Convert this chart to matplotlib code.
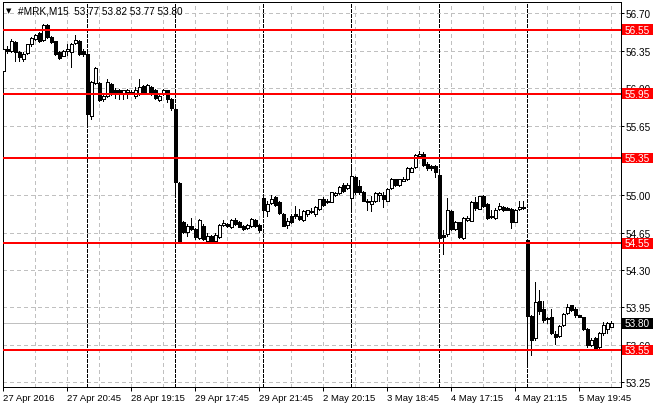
import matplotlib
matplotlib.use('Agg')
import matplotlib.pyplot as plt
from matplotlib.patches import Rectangle
import matplotlib.transforms as mtransforms

plt.rcParams['font.family'] = ['Liberation Sans', 'DejaVu Sans']

symbol = "#MRK,M15"

opens = [
    56.16, 56.37, 56.35, 56.43, 56.34, 56.27, 56.33, 56.41, 56.46, 56.52,
    56.45, 56.59, 56.48, 56.44, 56.34, 56.30, 56.35, 56.34, 56.42, 56.44,
    56.35, 56.32, 55.74, 56.05, 56.05, 55.90, 55.93, 56.04, 55.98, 55.98,
    55.96, 55.97, 55.97, 55.93, 55.95, 56.02, 55.96, 56.01, 55.98, 55.89,
    55.95, 55.98, 55.90, 55.81, 55.11, 54.75, 54.66, 54.71, 54.68, 54.60,
    54.71, 54.57, 54.62, 54.57, 54.61, 54.72, 54.73, 54.70, 54.77, 54.75,
    54.71, 54.69, 54.71, 54.77, 54.72, 54.97, 54.85, 54.93, 54.98, 54.94,
    54.82, 54.72, 54.81, 54.82, 54.81, 54.77, 54.82, 54.84, 54.82, 54.87,
    54.96, 54.94, 54.94, 55.00, 55.02, 55.10, 55.07, 54.97, 55.17, 55.09,
    55.03, 54.95, 54.92, 54.95, 55.00, 55.00, 54.95, 55.07, 55.15, 55.10,
    55.13, 55.15, 55.22, 55.26, 55.37, 55.39, 55.29, 55.27, 55.27, 55.19,
    54.63, 54.64, 54.85, 54.68, 54.75, 54.60, 54.77, 54.76, 54.94, 54.87,
    54.99, 54.92, 54.80, 54.79, 54.87, 54.89, 54.88, 54.87, 54.75, 54.87,
    54.89, 54.58, 53.87, 53.66, 54.01, 53.94, 53.85, 53.86, 53.70, 53.68,
    53.79, 53.90, 53.97, 53.94, 53.88, 53.86, 53.75, 53.60, 53.66, 53.58,
    53.71, 53.75, 53.77]

highs = [
    56.39, 56.40, 56.46, 56.44, 56.35, 56.34, 56.41, 56.48, 56.51, 56.53,
    56.60, 56.60, 56.49, 56.44, 56.35, 56.36, 56.41, 56.42, 56.50, 56.45,
    56.37, 56.33, 56.07, 56.20, 56.06, 55.96, 56.09, 56.05, 56.00, 55.99,
    55.98, 55.99, 55.98, 56.01, 56.09, 56.03, 56.04, 56.02, 55.99, 55.95,
    55.99, 55.98, 55.91, 55.82, 55.12, 54.76, 54.73, 54.79, 54.69, 54.78,
    54.73, 54.65, 54.63, 54.65, 54.73, 54.77, 54.74, 54.78, 54.79, 54.76,
    54.72, 54.73, 54.79, 54.78, 54.73, 54.99, 54.95, 55.00, 54.99, 54.95,
    54.83, 54.79, 54.82, 54.90, 54.87, 54.86, 54.86, 54.88, 54.90, 54.96,
    54.98, 54.96, 55.03, 55.03, 55.09, 55.11, 55.11, 55.29, 55.18, 55.14,
    55.04, 54.96, 54.99, 55.03, 55.03, 55.03, 55.07, 55.16, 55.15, 55.15,
    55.17, 55.26, 55.26, 55.39, 55.41, 55.40, 55.31, 55.28, 55.28, 55.21,
    54.67, 54.97, 54.86, 54.76, 54.75, 54.80, 54.81, 54.95, 54.98, 54.99,
    55.00, 54.93, 54.86, 54.88, 54.93, 54.90, 54.89, 54.88, 54.87, 54.95,
    54.95, 54.59, 53.88, 54.19, 54.11, 54.01, 53.86, 53.94, 53.73, 53.79,
    53.90, 53.98, 53.97, 53.95, 53.88, 53.86, 53.76, 53.66, 53.67, 53.72,
    53.81, 53.81, 53.82]

lows = [
    56.14, 56.33, 56.34, 56.26, 56.26, 56.26, 56.32, 56.40, 56.45, 56.43,
    56.44, 56.47, 56.42, 56.31, 56.27, 56.30, 56.31, 56.20, 56.41, 56.31,
    56.30, 55.64, 55.71, 56.04, 55.88, 55.88, 55.92, 55.94, 55.91, 55.90,
    55.90, 55.91, 55.95, 55.91, 55.94, 55.95, 55.95, 55.94, 55.90, 55.88,
    55.94, 55.87, 55.80, 55.01, 54.56, 54.65, 54.62, 54.67, 54.59, 54.59,
    54.58, 54.56, 54.56, 54.56, 54.60, 54.71, 54.70, 54.69, 54.72, 54.70,
    54.67, 54.68, 54.70, 54.70, 54.66, 54.81, 54.81, 54.92, 54.90, 54.82,
    54.71, 54.69, 54.74, 54.79, 54.77, 54.76, 54.81, 54.83, 54.81, 54.86,
    54.90, 54.93, 54.94, 54.99, 55.01, 55.03, 55.06, 54.86, 55.01, 55.01,
    54.95, 54.86, 54.85, 54.94, 54.95, 54.89, 54.95, 55.06, 55.09, 55.09,
    55.13, 55.14, 55.22, 55.25, 55.35, 55.27, 55.24, 55.24, 55.17, 54.57,
    54.45, 54.62, 54.67, 54.67, 54.60, 54.59, 54.76, 54.76, 54.86, 54.87,
    54.89, 54.78, 54.79, 54.78, 54.86, 54.85, 54.86, 54.69, 54.75, 54.86,
    54.87, 53.42, 53.51, 53.65, 53.89, 53.81, 53.80, 53.70, 53.61, 53.67,
    53.78, 53.89, 53.92, 53.86, 53.86, 53.74, 53.58, 53.59, 53.56, 53.57,
    53.69, 53.71, 53.77]

closes = [
    56.37, 56.35, 56.44, 56.34, 56.29, 56.32, 56.41, 56.47, 56.50, 56.44,
    56.59, 56.48, 56.43, 56.32, 56.28, 56.35, 56.37, 56.41, 56.45, 56.32,
    56.32, 55.76, 56.06, 56.19, 55.89, 55.93, 56.06, 55.95, 55.96, 55.96,
    55.98, 55.98, 55.96, 55.98, 56.01, 55.96, 56.03, 55.95, 55.91, 55.93,
    55.98, 55.90, 55.82, 55.12, 54.57, 54.66, 54.71, 54.68, 54.61, 54.77,
    54.59, 54.62, 54.57, 54.63, 54.72, 54.74, 54.71, 54.77, 54.73, 54.70,
    54.68, 54.72, 54.78, 54.71, 54.67, 54.86, 54.92, 54.96, 54.91, 54.83,
    54.71, 54.76, 54.75, 54.81, 54.78, 54.85, 54.86, 54.85, 54.89, 54.96,
    54.91, 54.94, 55.03, 55.02, 55.08, 55.04, 55.10, 55.18, 55.03, 55.03,
    54.95, 54.94, 54.95, 55.02, 55.02, 54.96, 55.06, 55.15, 55.10, 55.15,
    55.15, 55.25, 55.25, 55.38, 55.39, 55.28, 55.25, 55.25, 55.22, 54.60,
    54.61, 54.86, 54.68, 54.75, 54.61, 54.79, 54.79, 54.94, 54.88, 54.99,
    54.90, 54.79, 54.80, 54.86, 54.90, 54.86, 54.86, 54.75, 54.86, 54.89,
    54.88, 53.87, 53.65, 54.00, 53.92, 53.83, 53.84, 53.71, 53.67, 53.78,
    53.89, 53.95, 53.93, 53.88, 53.86, 53.75, 53.60, 53.65, 53.56, 53.71,
    53.79, 53.80, 53.80]

x_tick_idx = [0, 16, 32, 48, 64, 80, 96, 112, 128, 144]
x_tick_labels = ["27 Apr 2016", "27 Apr 20:45", "28 Apr 19:15", "29 Apr 17:45",
                 "29 Apr 21:45", "2 May 20:15", "3 May 18:45", "4 May 17:15",
                 "4 May 21:15", "5 May 19:45"]
day_start_idx = [21, 43, 65, 87, 109, 131]
y_tick_values = [56.70, 56.35, 56.00, 55.65, 55.35, 55.00, 54.65, 54.30, 53.95, 53.60, 53.25]
level_values = [56.55, 55.95, 55.35, 54.55, 53.55]
last_price = closes[-1]

W, H = 660, 410
PX = 0.72  # one pixel in points
fig = plt.figure(figsize=(W / 100, H / 100), dpi=100)
fig.patch.set_facecolor('white')
ax_l, ax_r, ax_t, ax_b = 3.0, 620.5, 2.5, 388.0
ax = fig.add_axes([ax_l / W, (H - ax_b) / H, (ax_r - ax_l) / W, (ax_b - ax_t) / H])
ax.set_facecolor('white')

n = len(opens)
idx = list(range(n))
ax.set_xlim(-0.1, (ax_r - ax_l) / 4 - 0.1)
ax.set_ylim(53.206, 56.812)

# grid
grid_col = '#c0c0c0'
for v in y_tick_values:
    ax.axhline(v, color=grid_col, lw=PX, ls=(0, (3, 3)), zorder=0.5, antialiased=False)
for k in range(8, n + 8, 8):
    ax.axvline(k, color=grid_col, lw=PX, ls=(0, (3, 3)), zorder=0.5, antialiased=False)
# current price line
ax.axhline(last_price, color=grid_col, lw=PX, zorder=0.6, antialiased=False)
# day separators
for d in day_start_idx:
    ax.axvline(d, color='black', lw=PX, ls=(0, (3, 2)), zorder=0.7, antialiased=False)

# candles
ax.vlines(idx, lows, highs, color='black', lw=PX, zorder=2, antialiased=False)
bottoms = [min(o, c) for o, c in zip(opens, closes)]
heights = [max(abs(c - o), 0.006) for o, c in zip(opens, closes)]
colors = ['white' if c > o else 'black' for o, c in zip(opens, closes)]
ax.bar(idx, heights, bottom=bottoms, width=0.7, color=colors,
       edgecolor='black', linewidth=PX, zorder=3, antialiased=False)

# horizontal levels
for v in level_values:
    ax.axhline(v, color='#ff0000', lw=2 * PX, zorder=4, antialiased=False)

# axes styling
for s in ax.spines.values():
    s.set_color('black')
    s.set_linewidth(PX)
    s.set_antialiased(False)
ax.yaxis.tick_right()
ax.set_yticks(y_tick_values)
ax.set_yticklabels([f"{v:.2f}" for v in y_tick_values])
ax.tick_params(axis='y', direction='out', length=2.2, width=PX, pad=1.2,
               labelsize=7.2, colors='black', left=False, right=True)
ax.set_xticks(x_tick_idx)
ax.set_xticklabels(x_tick_labels, ha='left')
ax.tick_params(axis='x', direction='out', length=3, width=PX, pad=1.5,
               labelsize=6.8, colors='black')
for lab in ax.get_xticklabels():
    lab.set_horizontalalignment('left')

# price label boxes
trans = mtransforms.blended_transform_factory(fig.transFigure, ax.transData)
box_h = 10.5 / 106.9
box_x0, box_x1 = 622.0 / W, 653.0 / W


def price_box(value, face):
    r = Rectangle((box_x0, value - box_h / 2), box_x1 - box_x0, box_h,
                  transform=trans, facecolor=face, edgecolor='none',
                  clip_on=False, zorder=10)
    ax.add_artist(r)
    ax.text((box_x0 + box_x1) / 2, value, f"{value:.2f}", transform=trans,
            ha='center', va='center', color='white', fontsize=7.2,
            clip_on=False, zorder=11)


for v in level_values:
    price_box(v, '#ff0000')
price_box(last_price, 'black')

# header
hy = 1 - 11 / H
fig.text(6 / W, hy, '\u25bc', fontsize=5, family='DejaVu Sans', va='center', ha='left')
fig.text(18 / W, hy,
         f"{symbol}  {opens[-1]:.2f} {highs[-1]:.2f} {lows[-1]:.2f} {closes[-1]:.2f}",
         fontsize=7.2, va='center', ha='left', color='black')

fig.savefig('out.png', dpi=100, facecolor='white')
